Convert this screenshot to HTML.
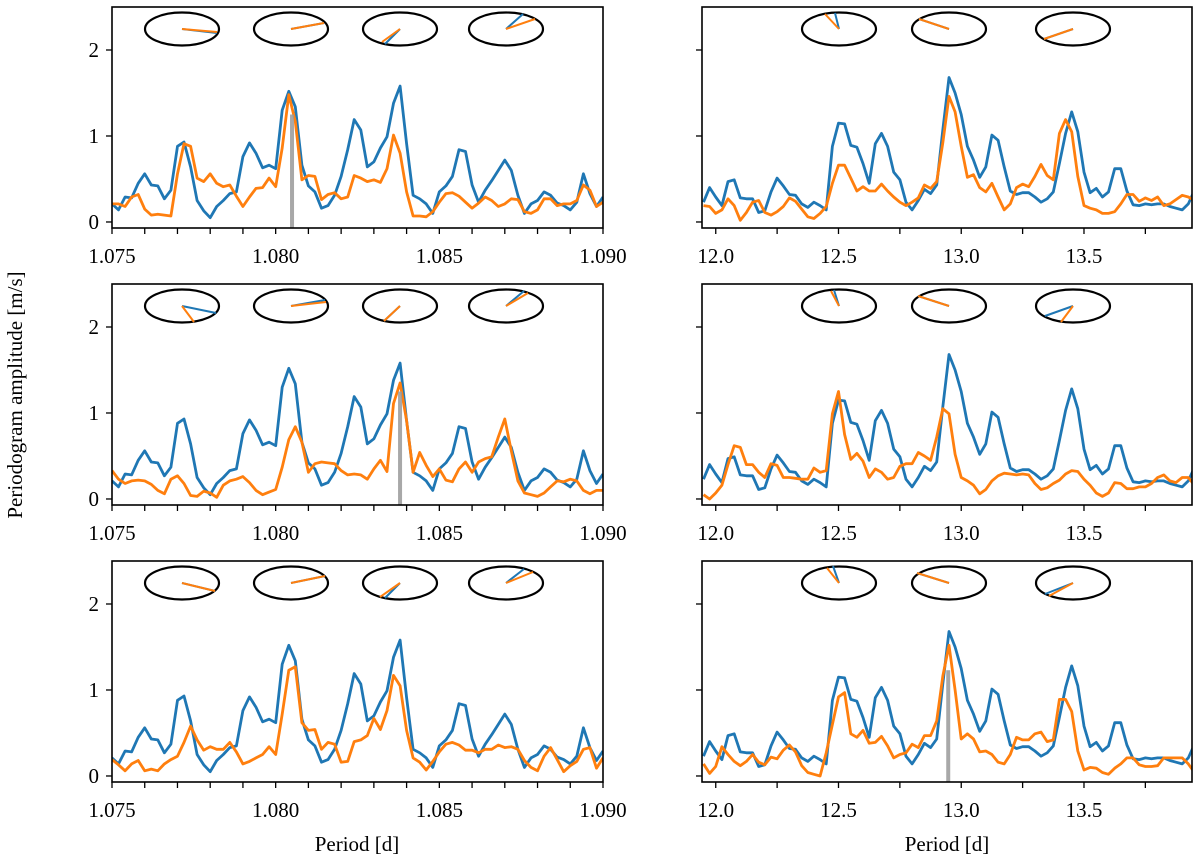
<!DOCTYPE html>
<html><head><meta charset="utf-8"><style>
html,body{margin:0;padding:0;background:#fff;}
svg{display:block;font-family:"Liberation Serif",serif;}
</style></head>
<body>
<svg id="chart" width="1200" height="859" viewBox="0 0 1200 859" xmlns="http://www.w3.org/2000/svg">
<text x="0" y="0" transform="translate(22,395) rotate(-90)" text-anchor="middle" font-size="21">Periodogram amplitude [m/s]</text>
<text x="357" y="851" text-anchor="middle" font-size="21">Period [d]</text>
<text x="947" y="851" text-anchor="middle" font-size="21">Period [d]</text>
</svg>
<script>
const leftPeriods = Array.from({length:76},(_,i)=>+(1.075+0.0002*i).toFixed(4));
const rightPeriods = Array.from({length:81},(_,i)=>+(11.95+0.025*i).toFixed(3));
const blueLeft = [.21,.14,.29,.28,.45,.56,.43,.42,.27,.37,.88,.93,.64,.25,.13,.05,.18,.25,.33,.35,.76,.92,.80,.63,.66,.62,1.30,1.52,1.34,.66,.42,.35,.16,.19,.31,.53,.84,1.19,1.07,.64,.70,.86,.99,1.38,1.58,.91,.31,.27,.21,.10,.35,.42,.53,.84,.82,.43,.23,.37,.48,.60,.72,.60,.31,.10,.21,.25,.35,.31,.22,.19,.14,.23,.56,.33,.18,.29];
const orangeLeftRow1 = [.21,.21,.18,.29,.32,.15,.08,.09,.08,.07,.56,.91,.88,.51,.47,.56,.45,.41,.43,.30,.18,.29,.39,.40,.51,.41,.86,1.48,1.17,.49,.54,.53,.26,.32,.34,.27,.29,.54,.51,.47,.49,.46,.62,1.01,.80,.35,.07,.07,.06,.12,.23,.33,.34,.30,.23,.16,.22,.29,.25,.18,.21,.27,.26,.12,.10,.14,.27,.27,.19,.21,.21,.25,.43,.37,.18,.23];
const orangeLeftRow2 = [.33,.23,.18,.21,.22,.21,.17,.10,.06,.23,.27,.18,.04,.03,.09,.07,.02,.16,.21,.23,.26,.19,.10,.05,.08,.11,.37,.69,.84,.66,.31,.41,.43,.42,.41,.33,.28,.29,.28,.23,.35,.45,.32,1.11,1.35,.91,.31,.54,.39,.26,.35,.22,.20,.35,.43,.31,.43,.47,.49,.72,.93,.56,.21,.07,.05,.03,.07,.14,.21,.20,.23,.21,.10,.06,.10,.10];
const orangeLeftRow3 = [.19,.13,.06,.14,.18,.06,.08,.06,.14,.19,.23,.39,.58,.42,.30,.34,.31,.31,.39,.28,.14,.17,.21,.25,.34,.25,.72,1.23,1.27,.62,.53,.54,.31,.39,.37,.16,.17,.40,.42,.47,.67,.54,.76,1.17,1.05,.53,.21,.16,.07,.17,.28,.37,.39,.36,.30,.30,.27,.31,.31,.36,.33,.34,.31,.18,.10,.06,.23,.33,.19,.05,.12,.17,.31,.33,.09,.21];
const blueRight = [.23,.40,.29,.19,.47,.49,.28,.27,.27,.11,.13,.35,.51,.42,.32,.31,.21,.17,.23,.19,.14,.88,1.15,1.14,.89,.87,.68,.45,.91,1.03,.88,.58,.49,.23,.14,.25,.38,.33,.43,1.07,1.68,1.50,1.25,.88,.72,.52,.64,1.01,.95,.64,.36,.32,.34,.34,.29,.23,.27,.35,.68,1.03,1.28,1.05,.58,.34,.39,.29,.35,.62,.62,.36,.20,.19,.21,.20,.21,.21,.18,.16,.14,.21,.37];
const orangeRightRow1 = [.19,.18,.10,.14,.27,.19,.02,.11,.23,.25,.11,.08,.12,.18,.28,.24,.15,.06,.04,.10,.18,.45,.66,.66,.51,.36,.41,.36,.36,.44,.36,.29,.23,.19,.23,.28,.43,.39,.47,.92,1.46,1.28,.88,.52,.55,.40,.35,.45,.29,.14,.21,.40,.44,.41,.53,.67,.54,.49,1.03,1.19,1.05,.53,.19,.16,.14,.10,.10,.12,.21,.32,.32,.24,.28,.25,.29,.19,.21,.26,.31,.29,.25];
const orangeRightRow2 = [.05,.00,.07,.16,.40,.62,.60,.40,.40,.31,.25,.41,.39,.25,.25,.24,.23,.23,.36,.31,.33,.99,1.25,.75,.46,.53,.44,.25,.35,.31,.23,.25,.38,.41,.41,.54,.50,.45,.72,1.05,.99,.52,.25,.21,.16,.06,.11,.21,.27,.30,.29,.28,.29,.28,.18,.11,.13,.18,.22,.29,.33,.32,.23,.16,.07,.03,.07,.19,.18,.12,.12,.14,.14,.18,.25,.28,.21,.19,.25,.25,.16];
const orangeRightRow3 = [.14,.03,.11,.34,.25,.17,.12,.17,.25,.16,.13,.22,.20,.30,.36,.28,.12,.04,.02,.00,.27,.60,.92,.97,.49,.45,.53,.38,.39,.46,.35,.21,.25,.27,.37,.33,.47,.47,.64,1.16,1.52,1.00,.43,.49,.43,.28,.29,.25,.16,.14,.25,.45,.42,.42,.49,.51,.40,.42,.89,.89,.75,.29,.07,.10,.09,.04,.02,.09,.14,.21,.21,.13,.11,.11,.12,.21,.21,.21,.21,.14,.04];
const markerPeriods = [1.0805, 1.0838, 12.947];
const markerHeights = [1.25, 1.25, 1.23];
const leftTicks = [1.075, 1.080, 1.085, 1.090];
const leftTickLabels = ["1.075","1.080","1.085","1.090"];
const rightTicks = [12.0, 12.5, 13.0, 13.5];
const rightTickLabels = ["12.0","12.5","13.0","13.5"];
const yTicks = [0, 1, 2];
// phasor vectors [dx, dy] per ellipse, per panel
const phaseBlue = [
 [[35,4],[33,-6],[-15,15],[17,-15]], [[-4,-16],[-30,-10],[-29,10]],
 [[34,7],[34,-6],[-16,15],[18,-15]], [[-5,-16],[-31,-10],[-28,10]],
 [[33,8],[34,-7],[-15,15],[18,-14]], [[-6,-17],[-32,-10],[-28,11]]];
const phaseOrange = [
 [[35,3],[33,-6],[-18,13],[29,-10]], [[-14,-15],[-30,-10],[-29,10]],
 [[12,16],[35,-4],[-16,15],[22,-13]], [[-8,-15],[-31,-10],[-12,16]],
 [[33,8],[34,-7],[-20,14],[27,-11]], [[-12,-15],[-32,-10],[-24,13]]];

const NS="http://www.w3.org/2000/svg";
const svg=document.getElementById('chart');
const rowTops=[7,284,561], H=221;
const yMin=-0.07, yMax=2.5;
const cols=[{x0:112,x1:603,d0:1.075,d1:1.090,periods:leftPeriods,blue:blueLeft,orange:[orangeLeftRow1,orangeLeftRow2,orangeLeftRow3],ticks:leftTicks,labels:leftTickLabels,minor:0.001,ell:[182,291,400,506]},
            {x0:702,x1:1192,d0:11.944,d1:13.94,periods:rightPeriods,blue:blueRight,orange:[orangeRightRow1,orangeRightRow2,orangeRightRow3],ticks:rightTicks,labels:rightTickLabels,minor:0.25,ell:[839,949,1073]}];
function mk(tag,attrs,parent){const e=document.createElementNS(NS,tag);for(const k in attrs)e.setAttribute(k,attrs[k]);(parent||svg).appendChild(e);return e;}
const defs=mk('defs',{});
cols.forEach((c,ci)=>{
  rowTops.forEach((top,ri)=>{
    const pi=ri*2+ci;
    const xs=v=>c.x0+(v-c.d0)/(c.d1-c.d0)*(c.x1-c.x0);
    const ys=v=>top+(yMax-v)/(yMax-yMin)*H;
    const cp=mk('clipPath',{id:'clip'+pi},defs);
    mk('rect',{x:c.x0,y:top,width:c.x1-c.x0,height:H},cp);
    const g=mk('g',{});
    
    
    const plot=mk('g',{'clip-path':'url(#clip'+pi+')'},g);
    // blue series
    const bp=mk('polyline',{points:c.periods.map((p,i)=>xs(p).toFixed(1)+','+ys(c.blue[i]).toFixed(1)).join(' '),fill:'none',stroke:'#1f77b4','stroke-width':2.8,'stroke-linejoin':'round'},plot);
    
    
    const od=c.orange[ri];
    const op=mk('polyline',{points:c.periods.map((p,i)=>xs(p).toFixed(1)+','+ys(od[i]).toFixed(1)).join(' '),fill:'none',stroke:'#ff7f0e','stroke-width':2.8,'stroke-linejoin':'round'},plot);
    
    
    // marker bar
    const mi=(ci===0)?(ri<2?ri:-1):(ri===2?2:-1);
    if(mi>=0){
      const bx=xs(markerPeriods[mi]);
      const bar=mk('rect',{x:bx-2,y:ys(markerHeights[mi]),width:4,height:top+H-ys(markerHeights[mi]),fill:'#999',opacity:0.85},plot);
      
      
    }
    // ellipses
    c.ell.forEach((ex,ei)=>{
      const cy=top+22;
      const el=mk('ellipse',{cx:ex,cy:cy,rx:37,ry:16.5,fill:'none',stroke:'#000','stroke-width':2.2},g);
      
      
      const b=phaseBlue[pi][ei], o=phaseOrange[pi][ei];
      const lb=mk('line',{x1:ex,y1:cy,x2:ex+b[0],y2:cy+b[1],stroke:'#1f77b4','stroke-width':2},g);
      
      
      const lo=mk('line',{x1:ex,y1:cy,x2:ex+o[0],y2:cy+o[1],stroke:'#ff7f0e','stroke-width':2},g);
      
      
    });
    // frame
    const fr=mk('rect',{x:c.x0,y:top,width:c.x1-c.x0,height:H,fill:'none',stroke:'#000','stroke-width':1.6},g);
    
    
    // x ticks (minor + major)
    const n=Math.round((c.d1-c.d0)/c.minor)+1;
    const start=Math.ceil(c.d0/c.minor-1e-6)*c.minor;
    for(let v=start; v<=c.d1+1e-9; v+=c.minor){
      const tx=xs(v);
      const t=mk('line',{x1:tx,y1:top+H,x2:tx,y2:top+H+6,stroke:'#000','stroke-width':1.3},g);
      
      
    }
    c.ticks.forEach((v,k)=>{
      const tl=mk('text',{x:xs(v),y:top+H+35,'text-anchor':'middle','font-size':21},g);
      tl.textContent=c.labels[k];
      
      
    });
    yTicks.forEach(v=>{
      const ty=ys(v);
      const t=mk('line',{x1:c.x0-6,y1:ty,x2:c.x0,y2:ty,stroke:'#000','stroke-width':1.3},g);
      
      
      if(ci===0){
        const tl=mk('text',{x:c.x0-13,y:ty+7,'text-anchor':'end','font-size':21},g);
        tl.textContent=String(v);
        
        
      }
    });
  });
});
</script>
</body></html>
